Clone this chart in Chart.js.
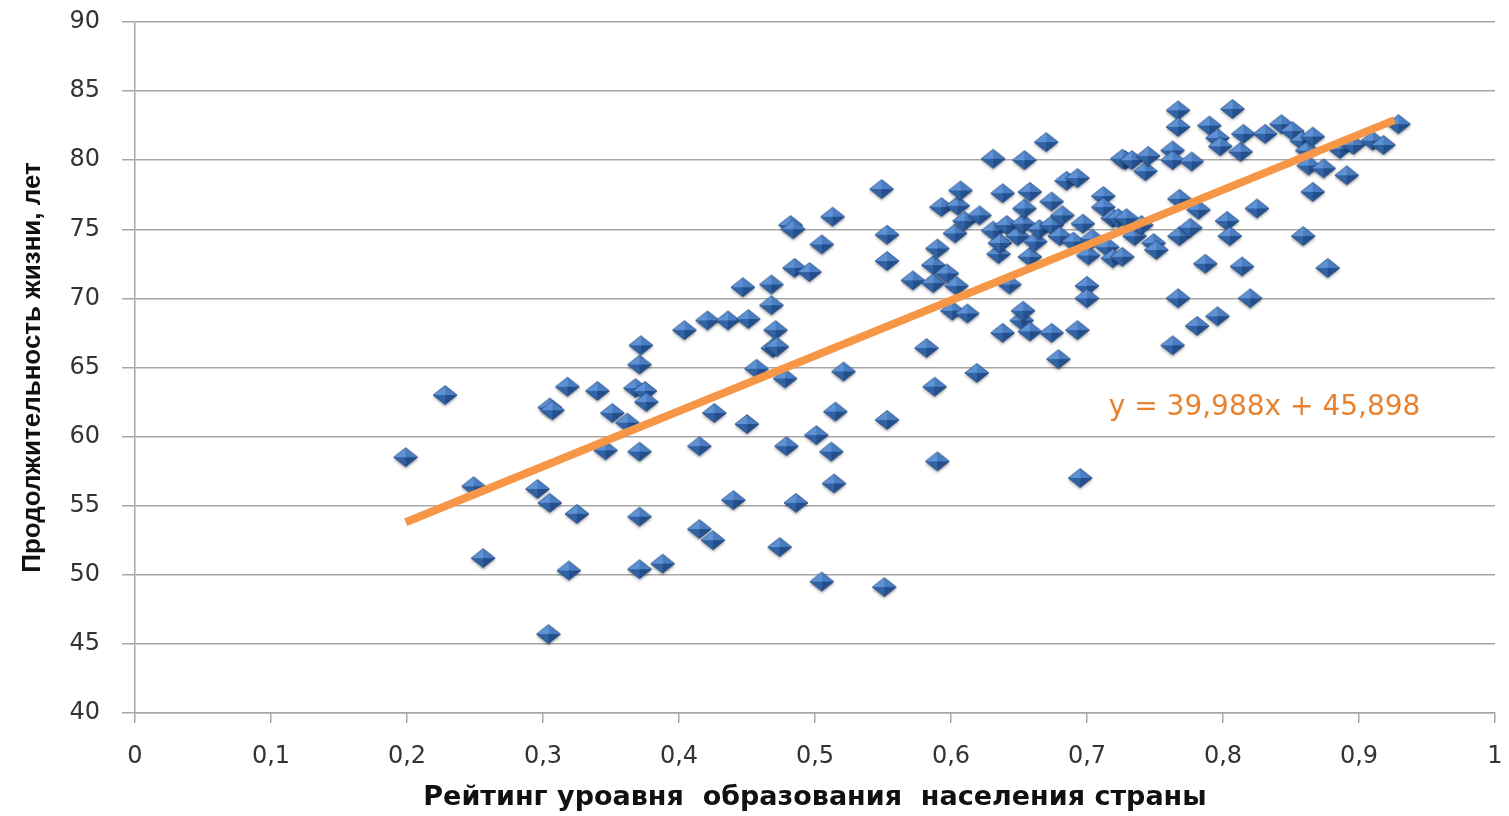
<!DOCTYPE html>
<html>
<head>
    <meta charset="utf-8">
    <script src="https://cdn.jsdelivr.net/npm/chart.js@4.4.1/dist/chart.umd.min.js"></script>
    <style>
        body {
            margin: 0;
            background-color: #ffffff;
        }
        .wrapper {
            width: 1509px;
            height: 816px;
            position: relative;
        }
    </style>
</head>
<body>
    <div class="wrapper">
        <canvas id="scatterChart"></canvas>
    </div>
    <script>
        // рейтинг уровня образования (x) и продолжительность жизни (y), по странам
        var eduRating = [
            0.199, 0.228, 0.249, 0.256, 0.296, 0.304, 0.305, 0.305, 0.307, 0.318,
            0.319, 0.325, 0.340, 0.346, 0.351, 0.362, 0.368, 0.371, 0.371, 0.371,
            0.371, 0.372, 0.375, 0.376, 0.388, 0.404, 0.415, 0.415, 0.421, 0.425,
            0.426, 0.436, 0.440, 0.447, 0.450, 0.451, 0.457, 0.468, 0.468, 0.469,
            0.471, 0.472, 0.474, 0.478, 0.479, 0.482, 0.484, 0.485, 0.486, 0.496,
            0.501, 0.505, 0.505, 0.512, 0.513, 0.514, 0.515, 0.521, 0.549, 0.551,
            0.553, 0.553, 0.553, 0.572, 0.582, 0.587, 0.587, 0.588, 0.590, 0.590,
            0.593, 0.597, 0.601, 0.603, 0.604, 0.605, 0.607, 0.610, 0.612, 0.619,
            0.621, 0.631, 0.631, 0.635, 0.636, 0.638, 0.638, 0.641, 0.643, 0.649,
            0.652, 0.653, 0.653, 0.654, 0.654, 0.658, 0.658, 0.658, 0.662, 0.665,
            0.670, 0.674, 0.674, 0.674, 0.679, 0.680, 0.682, 0.685, 0.690, 0.693,
            0.693, 0.695, 0.697, 0.700, 0.700, 0.701, 0.704, 0.712, 0.712, 0.715,
            0.719, 0.719, 0.723, 0.726, 0.728, 0.729, 0.726, 0.733, 0.735, 0.740,
            0.743, 0.745, 0.749, 0.751, 0.763, 0.763, 0.763, 0.767, 0.767, 0.767,
            0.768, 0.768, 0.776, 0.777, 0.781, 0.782, 0.787, 0.790, 0.796, 0.796,
            0.798, 0.803, 0.805, 0.807, 0.813, 0.814, 0.815, 0.820, 0.825, 0.831,
            0.843, 0.851, 0.858, 0.859, 0.862, 0.863, 0.866, 0.866, 0.874, 0.877,
            0.886, 0.891, 0.896, 0.910, 0.918, 0.929
        ];
        var lifeExp = [
            58.4, 62.9, 56.3, 51.1, 56.1, 45.6, 62.0, 55.1, 61.8, 63.5,
            50.2, 54.3, 63.2, 58.9, 61.6, 60.9, 63.4, 65.1, 58.8, 54.1,
            50.3, 66.5, 63.2, 62.4, 50.7, 67.6, 59.2, 53.2, 68.3, 52.4,
            61.6, 68.3, 55.3, 70.7, 60.8, 68.4, 64.8, 70.9, 69.4, 66.3,
            67.6, 66.4, 51.9, 64.1, 59.2, 75.2, 74.9, 72.1, 55.1, 71.8,
            60.0, 73.8, 49.4, 58.8, 75.8, 56.5, 61.7, 64.6, 77.8, 49.0,
            74.5, 72.6, 61.1, 71.2, 66.3, 72.3, 71.0, 63.5, 73.5, 58.1,
            76.5, 71.7, 69.0, 74.6, 70.8, 76.6, 77.7, 75.5, 68.8, 64.5,
            75.9, 80.0, 74.8, 73.1, 73.9, 77.5, 67.4, 75.2, 70.9, 74.4,
            68.3, 75.3, 69.0, 76.4, 79.9, 77.6, 72.9, 67.5, 74.0, 74.9,
            81.2, 76.9, 75.2, 67.4, 65.5, 74.4, 75.9, 78.4, 74.0, 78.6,
            67.6, 56.9, 75.3, 70.8, 69.9, 73.0, 74.2, 77.3, 76.5, 73.6,
            72.8, 75.7, 75.7, 72.9, 79.9, 75.7, 80.0, 79.9, 74.4, 75.2,
            79.1, 80.2, 73.9, 73.4, 80.6, 79.9, 66.5, 83.5, 82.3, 69.9,
            77.1, 74.4, 75.0, 79.8, 67.9, 76.3, 72.4, 82.4, 81.5, 68.6,
            80.9, 75.5, 74.4, 83.6, 80.5, 72.2, 81.8, 69.9, 76.4, 81.8,
            82.5, 82.0, 81.3, 74.4, 80.6, 79.5, 81.6, 77.6, 79.3, 72.1,
            80.7, 78.8, 81.0, 81.3, 81.0, 82.5
        ];

        // линия тренда (концы, как на рисунке)
        var trendX = [0.199, 0.926];
        var trendY = [53.8, 82.9];
        var trendLabel = 'y = 39,988x + 45,898';

        var xTitle = 'Рейтинг уроавня  образования  населения страны';
        var yTitle = 'Продолжительность жизни, лет';

        // синий ромб с "объёмом", как маркер в Excel
        function makeDiamond() {
            var c = document.createElement('canvas');
            c.width = 28;
            c.height = 25;
            var g = c.getContext('2d');
            var cx = 14, cy = 11, hw = 12, hh = 9.5;
            g.save();
            g.shadowColor = 'rgba(0,0,0,0.35)';
            g.shadowBlur = 3;
            g.shadowOffsetY = 2;
            g.beginPath();
            g.moveTo(cx, cy - hh); g.lineTo(cx + hw, cy); g.lineTo(cx, cy + hh); g.lineTo(cx - hw, cy);
            g.closePath();
            g.fillStyle = '#3a6aae';
            g.fill();
            g.restore();
            var facets = [
                [[cx, cy - hh], [cx - hw, cy], '#5f92d4'],
                [[cx, cy - hh], [cx + hw, cy], '#4a7dc2'],
                [[cx - hw, cy], [cx, cy + hh], '#3163a4'],
                [[cx + hw, cy], [cx, cy + hh], '#234f8c']
            ];
            facets.forEach(function (f) {
                g.beginPath();
                g.moveTo(cx, cy);
                g.lineTo(f[0][0], f[0][1]);
                g.lineTo(f[1][0], f[1][1]);
                g.closePath();
                g.fillStyle = f[2];
                g.fill();
            });
            g.beginPath();
            g.moveTo(cx, cy - hh); g.lineTo(cx + hw, cy); g.lineTo(cx, cy + hh); g.lineTo(cx - hw, cy);
            g.closePath();
            g.strokeStyle = 'rgba(25,55,105,0.7)';
            g.lineWidth = 0.8;
            g.stroke();
            return c;
        }

        var points = eduRating.map(function (x, i) { return { x: x, y: lifeExp[i] }; });
        var trend = trendX.map(function (x, i) { return { x: x, y: trendY[i] }; });

        var whiteBg = {
            id: 'whiteBg',
            beforeDraw: function (chart) {
                var c = chart.ctx;
                c.save();
                c.fillStyle = '#ffffff';
                c.fillRect(0, 0, chart.width, chart.height);
                c.restore();
            }
        };

        var trendText = {
            id: 'trendText',
            afterDatasetsDraw: function (chart) {
                var c = chart.ctx;
                var xs = chart.scales.x, ys = chart.scales.y;
                c.save();
                c.font = '28px "DejaVu Sans"';
                c.fillStyle = '#e8822e';
                c.textAlign = 'left';
                c.textBaseline = 'middle';
                c.fillText(trendLabel, xs.getPixelForValue(0.716), ys.getPixelForValue(62.1));
                c.restore();
            }
        };

        var tickFmt = function (v) { return String(+Number(v).toFixed(1)).replace('.', ','); };

        var ctx = document.getElementById('scatterChart').getContext('2d');
        var chart = new Chart(ctx, {
            type: 'scatter',
            data: {
                datasets: [{
                    label: 'trend',
                    type: 'line',
                    data: trend,
                    borderColor: '#f79646',
                    borderWidth: 8,
                    pointRadius: 0,
                    fill: false,
                    order: 0
                }, {
                    label: 'countries',
                    data: points,
                    pointStyle: makeDiamond(),
                    order: 1
                }]
            },
            options: {
                responsive: true,
                maintainAspectRatio: false,
                animation: false,
                layout: {
                    padding: { top: 22, right: 14, left: 0, bottom: 0 }
                },
                plugins: {
                    legend: { display: false },
                    tooltip: { enabled: false }
                },
                scales: {
                    x: {
                        type: 'linear',
                        min: 0,
                        max: 1,
                        afterFit: function (s) {
                            s.height = 103;
                            s.paddingLeft = 0;
                            s.paddingRight = 0;
                        },
                        ticks: {
                            stepSize: 0.1,
                            callback: tickFmt,
                            color: '#333333',
                            padding: 19,
                            font: { family: 'DejaVu Sans', size: 24 }
                        },
                        grid: {
                            drawOnChartArea: false,
                            drawTicks: true,
                            tickLength: 10,
                            color: '#a6a6a6',
                            lineWidth: 1.5
                        },
                        border: { color: '#a6a6a6', width: 1.5 },
                        title: {
                            display: true,
                            text: xTitle,
                            color: '#111111',
                            padding: { top: 2, bottom: 2 },
                            font: { family: 'DejaVu Sans', size: 27, weight: 'bold' }
                        }
                    },
                    y: {
                        min: 40,
                        max: 90,
                        afterFit: function (s) {
                            s.width = 135;
                            s.paddingTop = 0;
                            s.paddingBottom = 0;
                        },
                        ticks: {
                            stepSize: 5,
                            color: '#333333',
                            padding: 22,
                            font: { family: 'DejaVu Sans', size: 24 }
                        },
                        grid: {
                            color: '#a6a6a6',
                            lineWidth: 1.5,
                            tickLength: 13
                        },
                        border: { color: '#a6a6a6', width: 1.5 },
                        title: {
                            display: true,
                            text: yTitle,
                            color: '#111111',
                            padding: { top: 17, bottom: 17 },
                            font: { family: 'Liberation Sans', size: 26, weight: 'bold' }
                        }
                    }
                }
            },
            plugins: [whiteBg, trendText]
        });
    </script>
</body>
</html>
